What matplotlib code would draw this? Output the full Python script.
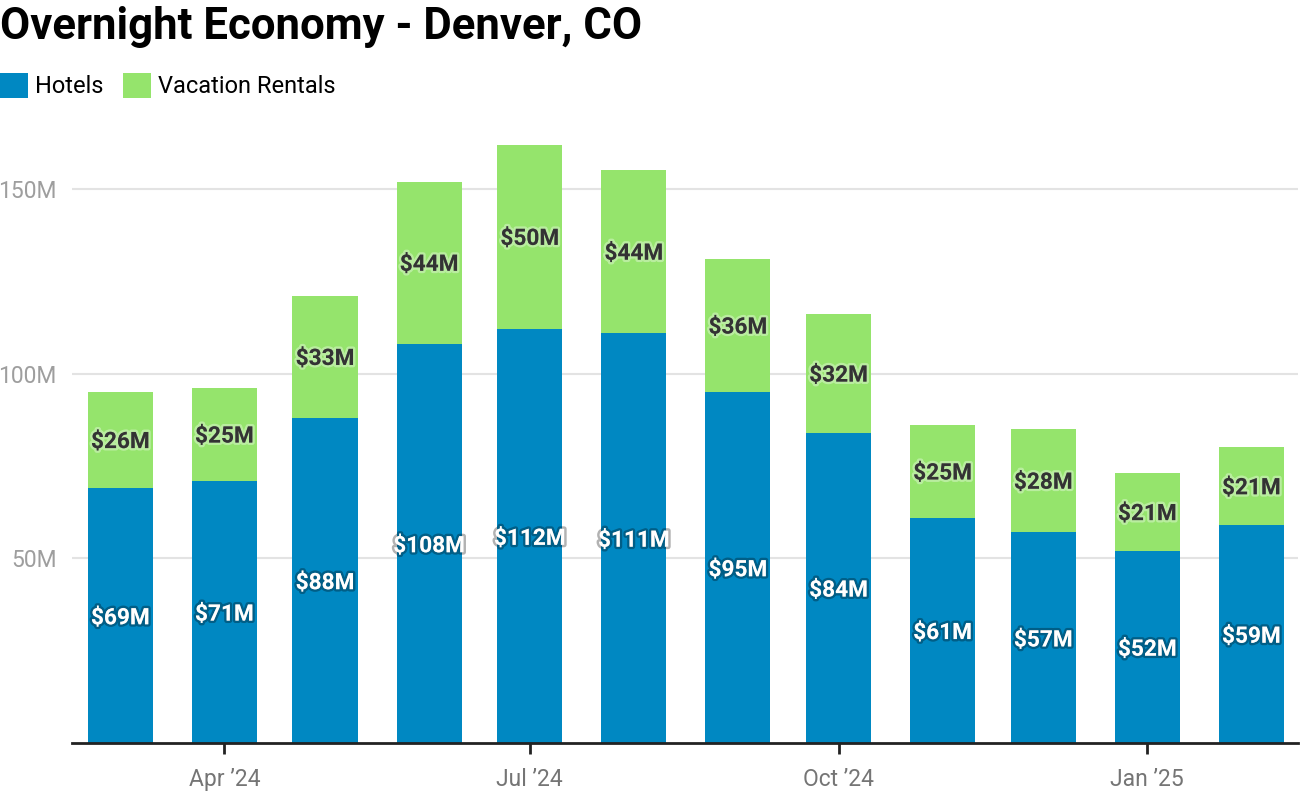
import matplotlib
matplotlib.use("Agg")
import matplotlib.pyplot as plt
import matplotlib.dates as mdates
import matplotlib.patheffects as pe
from matplotlib.patches import Patch
import datetime as dt

months = ["2024-03", "2024-04", "2024-05", "2024-06", "2024-07", "2024-08",
          "2024-09", "2024-10", "2024-11", "2024-12", "2025-01", "2025-02"]
hotels = [69, 71, 88, 108, 112, 111, 95, 84, 61, 57, 52, 59]
rentals = [26, 25, 33, 44, 50, 44, 36, 32, 25, 28, 21, 21]
tick_months = ["2024-04", "2024-07", "2024-10", "2025-01"]
tick_labels = ["Apr \u201924", "Jul \u201924", "Oct \u201924", "Jan \u201925"]
yticks = [50, 100, 150]
ytick_labels = ["50M", "100M", "150M"]

c_hotel = "#0088c2"
c_rent = "#95e46c"

plt.rcParams['font.family'] = ['Roboto', 'DejaVu Sans']

W, H = 1300, 802
fig = plt.figure(figsize=(W / 100, H / 100), dpi=100)

ymax = 165
px_per_unit = 184.7 / 50
ax_bottom = 743
ax_h = ymax * px_per_unit
ax_left, ax_right = 72, 1298
ax = fig.add_axes([ax_left / W, 1 - ax_bottom / H, (ax_right - ax_left) / W, ax_h / H])

def tonum(m):
    y, mo = m.split("-")
    return mdates.date2num(dt.date(int(y), int(mo), 1))

x = [tonum(m) for m in months]
width = 19.4

ax.bar(x, hotels, width=width, color=c_hotel, zorder=2)
ax.bar(x, rentals, width=width, bottom=hotels, color=c_rent, zorder=2)

for xi, h, r in zip(x, hotels, rentals):
    ax.text(xi, h / 2 - 0.6, f"${h}M", ha="center", va="center", color="white",
            fontsize=16.3, fontweight="bold", zorder=3,
            path_effects=[pe.withStroke(linewidth=3.5, foreground=(0, 0, 0, 0.3))])
    ax.text(xi, h + r / 2 - 0.4, f"${r}M", ha="center", va="center", color="#333333",
            fontsize=16.3, fontweight="bold", zorder=3,
            path_effects=[pe.withStroke(linewidth=3.5, foreground=(1, 1, 1, 0.35))])

ax.set_xlim(x[0] - 14.4, x[-1] + 13.9)
ax.set_ylim(0, ymax)

ax.set_xticks([tonum(m) for m in tick_months])
ax.set_xticklabels(tick_labels, fontsize=16.5, color="#757575")
ax.tick_params(axis="x", length=8, width=2, color="#222222", pad=10)

ax.set_yticks(yticks)
ax.set_yticklabels(ytick_labels, fontsize=16.5, color="#9e9e9e")
ax.tick_params(axis="y", length=0, pad=11)

ax.grid(axis="y", color="#e3e3e3", linewidth=1.5, zorder=0)
for s in ["top", "right", "left"]:
    ax.spines[s].set_visible(False)
ax.spines["bottom"].set_linewidth(2)
ax.spines["bottom"].set_color("#222222")
ax.spines["bottom"].set_zorder(4)

fig.text(0, 1 - 27 / H, "Overnight Economy - Denver, CO", fontsize=31.5,
         fontweight="bold", color="black", ha="left", va="center")

handles = [Patch(facecolor=c_hotel, label="Hotels"),
           Patch(facecolor=c_rent, label="Vacation Rentals")]
fig.legend(handles=handles, loc="upper left", bbox_to_anchor=(0, 1 - 73 / H),
           ncol=2, frameon=False, fontsize=17, handlelength=1.2, handleheight=1.25,
           handletextpad=0.3, columnspacing=0.8, borderpad=0, borderaxespad=0)

fig.savefig("out.png", dpi=100)
